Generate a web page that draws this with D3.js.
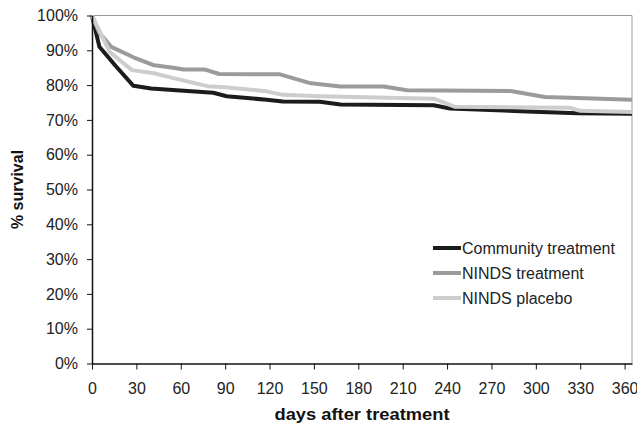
<!DOCTYPE html>
<html><head><meta charset="utf-8">
<script src="https://cdn.jsdelivr.net/npm/d3@7/dist/d3.min.js"></script>
<style>body{margin:0;background:#fff}text{font-family:"Liberation Sans",Arial,sans-serif}</style>
</head><body><svg id="c" width="637" height="427"></svg>
<script>
const seriesNames = ["Community treatment", "NINDS treatment", "NINDS placebo"];
const communityDays = [0,5,16,28,40,57,82,91,118,129,154,168,231,242,294,328,365];
const communityPct  = [100,91,85.5,79.8,79,78.5,77.8,76.8,75.8,75.3,75.2,74.4,74.2,73.3,72.4,71.9,71.8];
const nindsTreatDays = [0,5,13,28,42,55,62,76,86,127,148,168,197,213,283,306,328,365];
const nindsTreatPct  = [100,95,91,88,85.7,85,84.5,84.5,83.2,83.1,80.5,79.6,79.6,78.5,78.3,76.6,76.3,75.8];
const nindsPlaceboDays = [0,12,27,42,55,78,90,118,129,154,231,245,323,330,365];
const nindsPlaceboPct  = [100,89.5,84.3,83.4,82,79.7,79.4,78.2,77.2,76.8,76.1,73.8,73.5,72.6,72.3];
const xTicks = [0,30,60,90,120,150,180,210,240,270,300,330,360];
const yTicks = [0,10,20,30,40,50,60,70,80,90,100];
const colors = ["#1c1c1c", "#9b9b9b", "#cdcdcd"];

const svg = d3.select("#c");
const m = {l:92, t:15.5, r:632, b:363.5};
const x = d3.scaleLinear().domain([0,365]).range([m.l, m.r]);
const y = d3.scaleLinear().domain([0,100]).range([m.b, m.t]);
const fs = 16;

svg.append("path").attr("d", `M${m.l},${m.t}H${m.r}V${m.b}`).attr("fill","none").attr("stroke","#999").attr("stroke-width",1);

const data = [
  communityDays.map((d,i)=>[d,communityPct[i]]),
  nindsTreatDays.map((d,i)=>[d,nindsTreatPct[i]]),
  nindsPlaceboDays.map((d,i)=>[d,nindsPlaceboPct[i]])
];
const line = d3.line().x(d=>x(d[0])).y(d=>y(d[1]));
data.forEach((s,i)=>{
  svg.append("path").datum(s).attr("d",line).attr("fill","none")
    .attr("stroke",colors[i]).attr("stroke-width",4).attr("stroke-linejoin","round");
});

const xAxis = svg.append("g").attr("transform",`translate(0,${m.b})`)
  .call(d3.axisBottom(x).tickValues(xTicks).tickSize(6).tickSizeOuter(0).tickPadding(13));
const yAxis = svg.append("g").attr("transform",`translate(${m.l},0)`)
  .call(d3.axisLeft(y).tickValues(yTicks).tickSize(5).tickSizeOuter(0).tickPadding(9).tickFormat(d=>d+"%"));
[xAxis,yAxis].forEach(g=>{
  g.select(".domain").attr("stroke","#111").attr("stroke-width",1.5);
  g.selectAll(".tick line").attr("stroke","#111");
  g.selectAll("text").attr("font-size",fs).attr("fill","#222").style("font-family",'"Liberation Sans",Arial,sans-serif');
});

svg.append("text").attr("x",(m.l+m.r)/2).attr("y",420).attr("text-anchor","middle")
  .attr("font-size",17).attr("font-weight","bold").attr("fill","#111")
  .attr("textLength",175).attr("lengthAdjust","spacingAndGlyphs").text("days after treatment");
svg.append("text").attr("transform",`translate(23,${(m.t+m.b)/2}) rotate(-90)`).attr("text-anchor","middle")
  .attr("font-size",16).attr("font-weight","bold").attr("fill","#111").text("% survival");

const lg = svg.append("g");
seriesNames.forEach((n,i)=>{
  const yy = 248 + i*25;
  lg.append("line").attr("x1",433).attr("x2",461).attr("y1",yy).attr("y2",yy).attr("stroke",colors[i]).attr("stroke-width",4);
  lg.append("text").attr("x",462).attr("y",yy+6).attr("font-size",16).attr("fill","#222").text(n);
});
</script></body></html>
